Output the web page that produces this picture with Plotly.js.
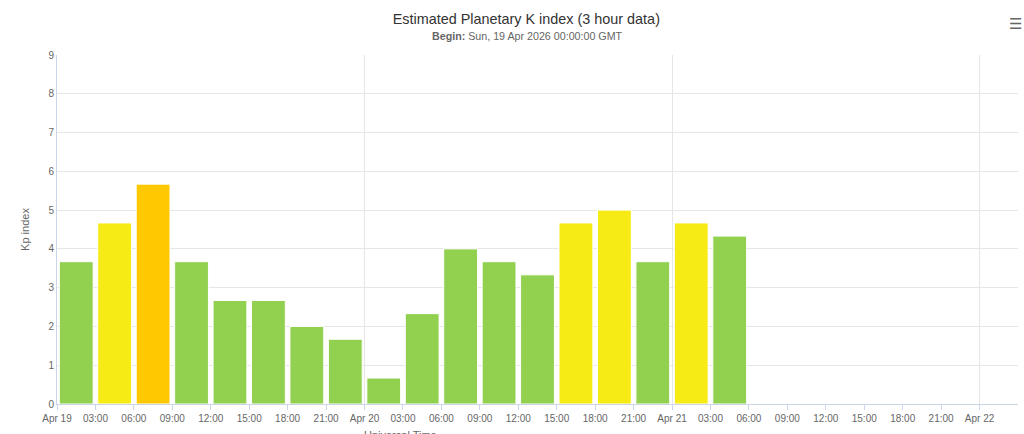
<!DOCTYPE html>
<html>
<head>
<meta charset="utf-8">
<script src="https://cdn.plot.ly/plotly-3.0.1.min.js"></script>
<style>html,body{margin:0;padding:0;background:#fff;}#chart{width:1024px;height:434px;}</style>
</head>
<body>
<div id="chart"></div>
<script>
// Interval start times (3-hour periods, UTC)
const periodStarts = [
  "2026-04-19 00:00","2026-04-19 03:00","2026-04-19 06:00","2026-04-19 09:00",
  "2026-04-19 12:00","2026-04-19 15:00","2026-04-19 18:00","2026-04-19 21:00",
  "2026-04-20 00:00","2026-04-20 03:00","2026-04-20 06:00","2026-04-20 09:00",
  "2026-04-20 12:00","2026-04-20 15:00","2026-04-20 18:00","2026-04-20 21:00",
  "2026-04-21 00:00","2026-04-21 03:00"
];
// Estimated Kp values
const kpValues = [3.67,4.67,5.67,3.67,2.67,2.67,2.00,1.67,0.67,2.33,4.00,3.67,3.33,4.67,5.00,3.67,4.67,4.33];

// Tick labels every 3 hours
const tickTimes = [
  "2026-04-19 00:00","2026-04-19 03:00","2026-04-19 06:00","2026-04-19 09:00","2026-04-19 12:00","2026-04-19 15:00","2026-04-19 18:00","2026-04-19 21:00",
  "2026-04-20 00:00","2026-04-20 03:00","2026-04-20 06:00","2026-04-20 09:00","2026-04-20 12:00","2026-04-20 15:00","2026-04-20 18:00","2026-04-20 21:00",
  "2026-04-21 00:00","2026-04-21 03:00","2026-04-21 06:00","2026-04-21 09:00","2026-04-21 12:00","2026-04-21 15:00","2026-04-21 18:00","2026-04-21 21:00",
  "2026-04-22 00:00"
];
const tickLabels = [
  "Apr 19","03:00","06:00","09:00","12:00","15:00","18:00","21:00",
  "Apr 20","03:00","06:00","09:00","12:00","15:00","18:00","21:00",
  "Apr 21","03:00","06:00","09:00","12:00","15:00","18:00","21:00",
  "Apr 22"
];
const dayBoundaries = ["2026-04-19 00:00","2026-04-20 00:00","2026-04-21 00:00","2026-04-22 00:00"];

function kpColor(v){
  if (v < 4.5) return "#92D050";
  if (v < 5.5) return "#F6EB14";
  return "#FFC800";
}

const THREE_H = 3*3600*1000;
const font = "Liberation Sans, Arial, Helvetica, sans-serif";

const trace = {
  type: "bar",
  x: periodStarts,
  y: kpValues,
  xperiod: THREE_H,
  xperiodalignment: "middle",
  width: THREE_H*0.88,
  marker: { color: kpValues.map(kpColor), line: { color: "#ffffff", width: 1 } },
  hoverinfo: "x+y",
  showlegend: false
};
// invisible trace to host day gridlines on an overlaying axis
const gridTrace = {
  type: "scatter", x: dayBoundaries, y: [0,0,0,0], xaxis: "x2",
  mode: "markers", marker: {opacity: 0}, hoverinfo: "skip", showlegend: false
};

const xRange = ["2026-04-19 00:00","2026-04-22 03:00"];

const layout = {
  width: 1024, height: 434,
  margin: { l: 57, r: 6, t: 55, b: 30 },
  paper_bgcolor: "#ffffff", plot_bgcolor: "#ffffff",
  font: { family: font, color: "#666666", size: 10 },
  title: {
    text: "Estimated Planetary K index (3 hour data)",
    font: { family: font, size: 14.4, color: "#333333" },
    x: 0.514, xanchor: "center", xref: "container",
    y: 1 - 19/434, yanchor: "middle", yref: "container"
  },
  bargap: 0,
  xaxis: {
    type: "date", range: xRange,
    tickvals: tickTimes, ticktext: tickLabels,
    showgrid: false, zeroline: false,
    showline: true, linecolor: "#ccd6eb", linewidth: 1,
    ticks: "outside", ticklen: 5, tickcolor: "#ccd6eb",
    tickfont: { family: font, size: 10, color: "#666666" },
    fixedrange: true
  },
  xaxis2: {
    type: "date", range: xRange, overlaying: "x", matches: "x",
    tickvals: dayBoundaries, showticklabels: false, ticks: "",
    showgrid: true, gridcolor: "#e6e6e6", gridwidth: 1, zeroline: false, showline: false
  },
  yaxis: {
    range: [0, 9], dtick: 1, tick0: 0,
    showgrid: true, gridcolor: "#e6e6e6", gridwidth: 1,
    zeroline: false, showline: true, linecolor: "#ccd6eb", linewidth: 1,
    ticks: "", tickfont: { family: font, size: 10, color: "#666666" },
    title: { text: "Kp index", font: { family: font, size: 11, color: "#666666" }, standoff: 16 },
    fixedrange: true
  },
  annotations: [
    {
      text: "<b>Begin:</b> Sun, 19 Apr 2026 00:00:00 GMT",
      xref: "paper", yref: "paper",
      x: (527-57)/961, y: (434-30-36)/349,
      xanchor: "center", yanchor: "middle", showarrow: false,
      font: { family: font, size: 10.7, color: "#666666" }
    },
    {
      text: "Universal Time",
      xref: "paper", yref: "paper",
      x: (400-57)/961, y: (404-435)/349,
      xanchor: "center", yanchor: "middle", showarrow: false,
      font: { family: font, size: 11, color: "#666666" }
    },
    {
      text: "<b>☰</b>",
      xref: "paper", yref: "paper",
      x: (1015-57)/961, y: (434-30-24)/349,
      xanchor: "center", yanchor: "middle", showarrow: false,
      font: { family: "DejaVu Sans", size: 15, color: "#666666" }
    }
  ]
};

Plotly.newPlot("chart", [gridTrace, trace], layout, { displayModeBar: false, staticPlot: true });
</script>
</body>
</html>
